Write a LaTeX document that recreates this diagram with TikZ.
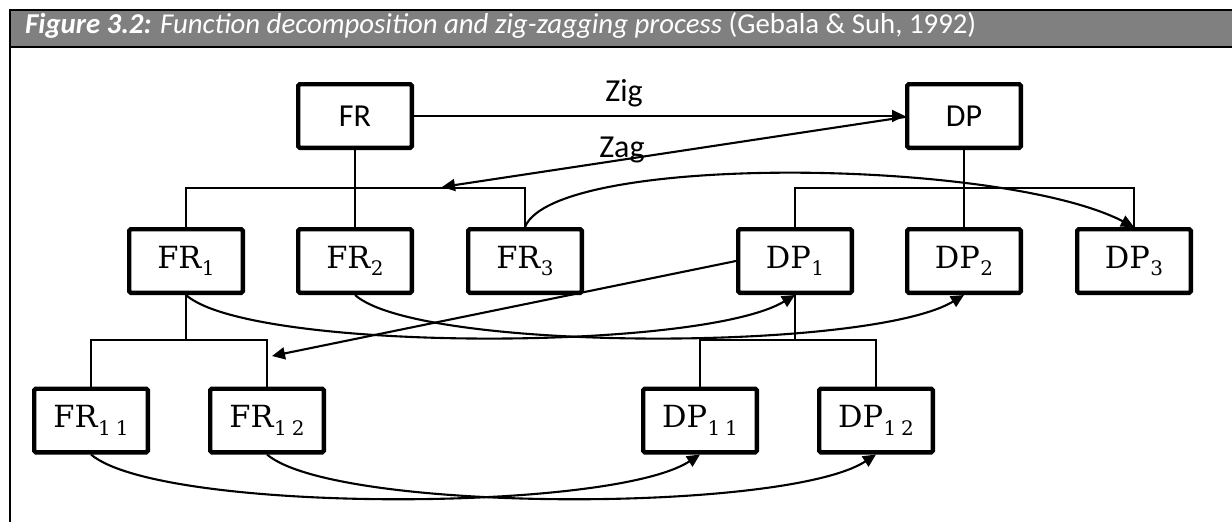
\documentclass[tikz,border=0pt]{standalone}
\usepackage{fontspec}
\newfontfamily\calib{Carlito}
\newfontfamily\boxserif{DejaVu Serif}
\usetikzlibrary{arrows.meta,calc}
\definecolor{headgray}{HTML}{808080}
% indexed label: main letters with a lowered, smaller index
\newcommand{\idx}[2]{#1\kern0.5pt\raisebox{-7.5pt}{\fontsize{20}{20}\selectfont #2}}

\begin{document}
\begin{tikzpicture}[x=1pt,y=-1pt,
  box/.style={draw, line width=4.4pt, rounded corners=1.5pt, fill=white,
    minimum width=113.6pt, minimum height=63.6pt, inner sep=0pt,
    font=\boxserif\fontsize{30.5}{34}\selectfont},
  topbox/.style={box, font=\calib\fontsize{32}{36}\selectfont},
  lbl/.style={anchor=base, inner sep=0pt, font=\calib\fontsize{32}{36}\selectfont},
  tree/.style={line width=1.3pt},
  link/.style={line width=2.1pt, -{Triangle[length=13pt,width=12pt]}},
  rule/.style={line width=2pt}
]
\useasboundingbox (0,0) rectangle (1232,522);

% caption bar
\fill[headgray] (11,11) rectangle (1232,46);
\draw[rule] (9,10) -- (1232,10);
\draw[rule] (10,47) -- (1232,47);
\draw[rule] (10,9) -- (10,522);
\node[anchor=base west, inner sep=0pt, text=white,
      font=\calib\fontsize{28.8}{32}\selectfont] (title) at (25,34)
  {\textbf{\textit{Figure 3.2:}} \textit{Function decomposition and zig-zagging process} (Gebala \& Suh, 1992)};

% top level
\node[topbox] (FR) at (355,116) {FR};
\node[topbox] (DP) at (964,116) {DP};

% second level
\node[box] (FR1) at (186,261) {\idx{FR}{1}};
\node[box] (FR2) at (355,261) {\idx{FR}{2}};
\node[box] (FR3) at (525,261) {\idx{FR}{3}};
\node[box] (DP1) at (795,261) {\idx{DP}{1}};
\node[box] (DP2) at (964,261) {\idx{DP}{2}};
\node[box] (DP3) at (1134,261) {\idx{DP}{3}};

% third level
\node[box] (FR11) at (91,420.5)  {\idx{FR}{1\kern5pt1}};
\node[box] (FR12) at (267,420.5) {\idx{FR}{1\kern5pt2}};
\node[box] (DP11) at (700,420.5) {\idx{DP}{1\kern5pt1}};
\node[box] (DP12) at (876,420.5) {\idx{DP}{1\kern5pt2}};

% branching bars
\coordinate (frbar) at (355,188);
\coordinate (dpbar) at (964,188);
\coordinate (fronebar) at (186,340);
\coordinate (dponebar) at (795,340);

\draw[tree] (FR.south) -- (FR2.north);
\draw[tree] (FR1.north) -- (FR1.north |- frbar) -- (FR3.north |- frbar) -- (FR3.north);
\draw[tree] (DP.south) -- (DP2.north);
\draw[tree] (DP1.north) -- (DP1.north |- dpbar) -- (DP3.north |- dpbar) -- (DP3.north);
\draw[tree] (FR1.south) -- (fronebar);
\draw[tree] (FR11.north) -- (FR11.north |- fronebar) -- (FR12.north |- fronebar) -- (FR12.north);
\draw[tree] (DP1.south) -- (dponebar);
\draw[tree] (DP11.north) -- (DP11.north |- dponebar) -- (DP12.north |- dponebar) -- (DP12.north);

% zig and zag
\coordinate (zagtip) at (442,187);
\coordinate (zigzagtip) at (272,356);
\draw[link] (FR.east) -- (DP.west);
\draw[link] ($(DP.west)+(0,1)$) -- (zagtip);
\node[lbl] (zig) at (624,101) {Zig};
\node[lbl] (zag) at (622,157) {Zag};
\draw[link] (DP1.west) -- (zigzagtip);

% mapping curves
\draw[link] (FR3.north) .. controls (555,153) and (1000,158) .. (DP3.north);
\draw[link] (FR1.south) .. controls (250,352) and (700,352) .. (DP1.south);
\draw[link] (FR2.south) .. controls (419,352) and (869,352) .. (DP2.south);
\draw[link] (FR11.south) .. controls (160,513) and (610,513) .. (DP11.south);
\draw[link] (FR12.south) .. controls (336,513) and (786,513) .. (DP12.south);
\end{tikzpicture}
\end{document}
